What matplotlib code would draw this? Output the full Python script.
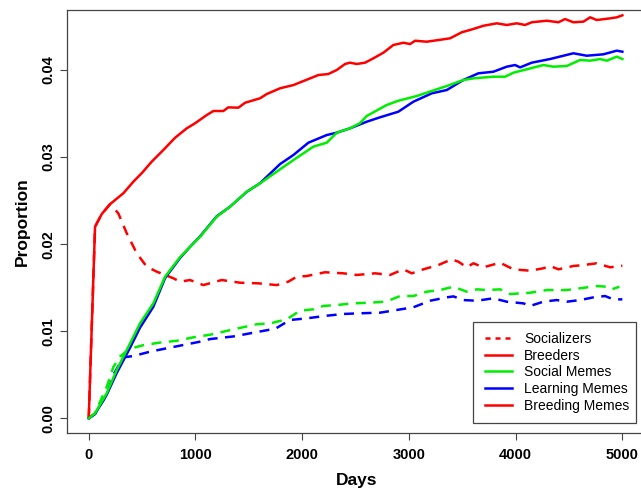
import matplotlib
matplotlib.use("Agg")
import matplotlib.pyplot as plt
from matplotlib.lines import Line2D
from matplotlib.patches import Rectangle

plt.rcParams['font.family'] = ['Liberation Sans', 'DejaVu Sans']

# ---------------- data ----------------
red_solid_days = [0, 59, 122, 200, 324, 418, 500, 590, 699, 809, 918, 996, 1106, 1168, 1261,
                  1308, 1402, 1465, 1605, 1668, 1793, 1918, 2011, 2152, 2245, 2324, 2402, 2448,
                  2511, 2589, 2667, 2761, 2854, 2948, 3011, 3058, 3167, 3276, 3386, 3495, 3604,
                  3698, 3823, 3917, 4011, 4088, 4151, 4292, 4401, 4463, 4541, 4635, 4698, 4760,
                  4885, 4948, 5000]
red_solid_vals = [0.0, 0.0220, 0.02346, 0.0246, 0.02584, 0.02717, 0.0282, 0.02947, 0.03081,
                  0.03222, 0.0333, 0.03388, 0.03483, 0.03529, 0.03529, 0.03571, 0.03567, 0.03624,
                  0.03675, 0.03724, 0.0379, 0.03827, 0.03873, 0.03942, 0.03954, 0.0400, 0.04069,
                  0.04084, 0.04069, 0.04084, 0.04134, 0.04199, 0.04287, 0.04313, 0.04298, 0.04336,
                  0.04325, 0.04344, 0.04364, 0.04433, 0.04471, 0.04508, 0.04536, 0.04517, 0.04536,
                  0.04517, 0.04548, 0.04566, 0.04548, 0.04585, 0.04548, 0.04555, 0.04605, 0.04574,
                  0.04593, 0.04605, 0.04628]

red_dashed_days = [0, 59, 122, 200, 277, 356, 450, 543, 637, 793, 855, 949, 1074, 1246, 1418,
                   1589, 1762, 1870, 1949, 2043, 2214, 2386, 2511, 2683, 2823, 2948, 3027, 3136,
                   3276, 3401, 3464, 3542, 3604, 3698, 3854, 3979, 4135, 4260, 4323, 4401, 4541,
                   4635, 4760, 4885, 5000]
red_dashed_vals = [0.0, 0.0220, 0.02346, 0.0246, 0.02354, 0.02125, 0.01895, 0.01741, 0.01684,
                   0.01608, 0.01569, 0.01588, 0.0153, 0.01588, 0.01557, 0.0155, 0.0153, 0.01569,
                   0.01626, 0.01634, 0.01677, 0.01665, 0.01646, 0.01665, 0.01646, 0.01711, 0.01665,
                   0.01711, 0.0176, 0.01826, 0.01798, 0.01734, 0.0178, 0.01734, 0.01787, 0.01711,
                   0.01695, 0.01723, 0.01749, 0.01711, 0.01749, 0.0176, 0.0178, 0.01734, 0.01752]

green_solid_days = [0, 59, 168, 262, 387, 480, 605, 715, 855, 950, 1043, 1199, 1324, 1480, 1605,
                    1793, 1918, 2105, 2230, 2324, 2448, 2542, 2605, 2792, 2901, 3074, 3214, 3355,
                    3510, 3604, 3791, 3901, 3979, 4104, 4260, 4354, 4479, 4604, 4698, 4791, 4854,
                    4948, 5000]
green_solid_vals = [0.0, 0.00057, 0.00287, 0.00555, 0.0086, 0.0109, 0.0132, 0.01626, 0.0185,
                    0.0197, 0.02085, 0.02315, 0.0243, 0.02602, 0.02698, 0.0286, 0.02966, 0.0312,
                    0.03165, 0.0328, 0.0333, 0.0339, 0.03472, 0.03598, 0.03647, 0.03701, 0.03759,
                    0.03816, 0.03885, 0.03904, 0.03923, 0.03923, 0.03969, 0.04008, 0.04057, 0.04038,
                    0.04046, 0.04115, 0.04107, 0.04126, 0.04107, 0.04153, 0.04126]

blue_solid_days = [0, 59, 168, 262, 387, 480, 605, 715, 855, 950, 1043, 1199, 1324, 1480, 1605,
                   1793, 1918, 2058, 2230, 2324, 2448, 2605, 2730, 2901, 3042, 3214, 3355, 3510,
                   3651, 3791, 3917, 3995, 4042, 4151, 4323, 4541, 4666, 4822, 4948, 5000]
blue_solid_vals = [0.0, 0.0005, 0.0027, 0.0052, 0.0081, 0.0104, 0.0128, 0.0161, 0.0184, 0.0197,
                   0.0209, 0.0232, 0.0243, 0.0260, 0.0270, 0.0292, 0.03024, 0.03165, 0.03253,
                   0.0328, 0.0333, 0.03406, 0.03457, 0.03521, 0.03636, 0.03732, 0.0377, 0.03885,
                   0.03962, 0.0398, 0.04038, 0.04057, 0.0403, 0.04084, 0.04126, 0.04192, 0.04164,
                   0.0418, 0.04222, 0.0421]

green_dashed_days = [0, 59, 168, 231, 293, 387, 512, 668, 824, 980, 1137, 1387, 1574, 1700, 1855,
                     1980, 2105, 2198, 2323, 2480, 2636, 2776, 2823, 2917, 3042, 3167, 3292, 3417,
                     3542, 3636, 3729, 3854, 3948, 4135, 4292, 4479, 4604, 4760, 4854, 4901, 4972]
green_dashed_vals = [0.0, 0.0006, 0.0036, 0.0059, 0.0071, 0.0080, 0.0084, 0.0087, 0.0089, 0.0093,
                     0.0096, 0.0103, 0.0108, 0.0109, 0.01137, 0.01236, 0.01252, 0.0129, 0.01301,
                     0.0132, 0.01328, 0.01339, 0.01358, 0.01404, 0.01404, 0.01454, 0.01473, 0.01511,
                     0.01454, 0.01481, 0.01473, 0.01481, 0.01427, 0.01442, 0.01473, 0.01473, 0.01493,
                     0.01519, 0.01511, 0.01481, 0.01511]

blue_dashed_days = [0, 59, 168, 231, 324, 418, 574, 731, 887, 1043, 1137, 1355, 1574, 1750, 1886,
                    2043, 2230, 2386, 2542, 2730, 2886, 3042, 3198, 3355, 3417, 3510, 3636, 3791,
                    3917, 4073, 4135, 4260, 4385, 4479, 4604, 4729, 4838, 4916, 5000]
blue_dashed_vals = [0.0, 0.0005, 0.0027, 0.0050, 0.0070, 0.00715, 0.00765, 0.00804, 0.00842,
                    0.0088, 0.0091, 0.0094, 0.0099, 0.0103, 0.01129, 0.01148, 0.01178, 0.01198,
                    0.01206, 0.01213, 0.01244, 0.01275, 0.0135, 0.01389, 0.0140, 0.01358, 0.0135,
                    0.01378, 0.01339, 0.0132, 0.0129, 0.01339, 0.01358, 0.01339, 0.01358, 0.01389,
                    0.01404, 0.01366, 0.01366]

x_ticks = [0, 1000, 2000, 3000, 4000, 5000]
y_ticks = [0.00, 0.01, 0.02, 0.03, 0.04]
legend_labels = ["Socializers", "Breeders", "Social Memes", "Learning Memes", "Breeding Memes"]
legend_colors = ["#FF0000", "#FF0000", "#00EE00", "#0000FF", "#FF0000"]

RED, GREEN, BLUE = "#FF0000", "#00EE00", "#0000FF"

# ---------------- figure ----------------
W, H = 641, 492
fig = plt.figure(figsize=(W / 100, H / 100), dpi=100)
ax_l, ax_r, ax_t, ax_b = 67.4, 643.7, 10.0, 432.7
ax = fig.add_axes([ax_l / W, 1 - ax_b / H, (ax_r - ax_l) / W, (ax_b - ax_t) / H])

lw = 1.8
dash = (0, (4, 3))
ax.plot(red_solid_days, red_solid_vals, color=RED, lw=lw, solid_joinstyle='round')
ax.plot(blue_dashed_days, blue_dashed_vals, color=BLUE, lw=lw, linestyle=dash)
ax.plot(green_dashed_days, green_dashed_vals, color=GREEN, lw=lw, linestyle=dash)
ax.plot(red_dashed_days, red_dashed_vals, color=RED, lw=lw, linestyle=dash)
ax.plot(blue_solid_days, blue_solid_vals, color=BLUE, lw=lw, solid_joinstyle='round')
ax.plot(green_solid_days, green_solid_vals, color=GREEN, lw=lw, solid_joinstyle='round')

ax.set_xlim(-200, 5200)
ax.set_ylim(-0.001654, 0.04689)

spine_c = "#444444"
for s in ax.spines.values():
    s.set_color(spine_c)
    s.set_linewidth(0.9)

ax.set_xticks(x_ticks)
ax.set_xticklabels([str(t) for t in x_ticks], fontweight='bold', fontsize=10.5)
ax.set_yticks(y_ticks)
ax.set_yticklabels([f"{t:.2f}" for t in y_ticks], fontweight='bold', fontsize=10.5,
                   rotation=90, va='center')
ax.tick_params(axis='both', direction='out', length=5, width=0.8, color=spine_c)
ax.tick_params(axis='x', pad=6)
ax.tick_params(axis='y', pad=4)

fig.text(357 / W, 1 - 481 / H, "Days", fontweight='bold', fontsize=12.5,
         ha='center', va='center')
fig.text(22 / W, 1 - 221.5 / H, "Proportion", fontweight='bold', fontsize=12.5,
         ha='center', va='center', rotation=90)

# legend
aw, ah = ax_r - ax_l, ax_b - ax_t
bx0, bx1, by0, by1 = 472.7, 635.7, 322.3, 423.3
ax.add_patch(Rectangle(((bx0 - ax_l) / aw, (ax_b - by1) / ah), (bx1 - bx0) / aw, (by1 - by0) / ah,
                       transform=ax.transAxes, fill=False, edgecolor=spine_c, lw=0.9, zorder=5))
handles = []
for i, (lab, col) in enumerate(zip(legend_labels, legend_colors)):
    ls = (0, (2, 2)) if i == 0 else '-'
    handles.append(Line2D([0], [0], color=col, lw=lw, linestyle=ls))
leg = ax.legend(handles, legend_labels, loc='upper left', frameon=False,
                bbox_to_anchor=((485 - ax_l) / aw, (ax_b - 332.0) / ah),
                borderpad=0, borderaxespad=0, handlelength=1.92, handletextpad=0.89,
                labelspacing=0.19, prop={'family': 'Liberation Sans', 'size': 10})

fig.savefig("out.png", dpi=100)
